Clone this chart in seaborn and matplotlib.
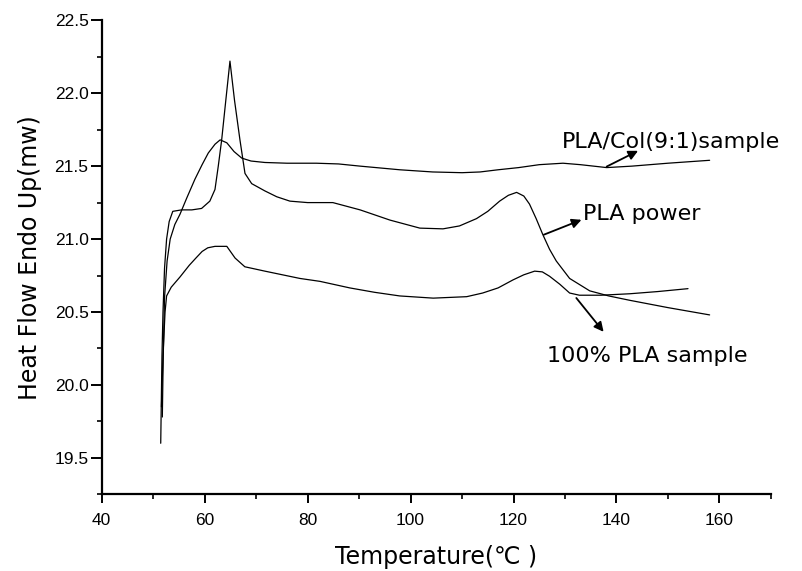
import matplotlib
matplotlib.use("Agg")
import matplotlib.pyplot as plt
from matplotlib.ticker import MultipleLocator
import seaborn as sns

# DSC curves
# PLA power (sharp peak near 65 C)
power_t = [51.46, 51.7, 51.9, 52.2, 52.6, 53.1, 53.8, 55.5, 57.5, 59.4, 61.0, 62.0,
           62.64, 63.3, 64.1, 64.91, 65.8, 66.85, 67.83, 69.13, 71.7, 74.0, 76.56,
           80.0, 84.9, 90.2, 96.0, 101.8, 106.3, 109.5, 112.8, 115.0, 117.3, 119.0,
           120.6, 122.0, 123.1, 124.4, 125.7, 127.0, 128.3, 130.9, 134.8, 138.5, 142.6,
           150.0, 158.1]
power_y = [19.60, 20.20, 20.50, 20.80, 21.00, 21.12, 21.19, 21.20, 21.20, 21.21, 21.26, 21.34,
           21.50, 21.68, 21.95, 22.22, 21.95, 21.68, 21.45, 21.38, 21.33, 21.29, 21.26,
           21.25, 21.25, 21.20, 21.13, 21.075, 21.07, 21.09, 21.14, 21.19, 21.26, 21.30,
           21.32, 21.295, 21.24, 21.14, 21.03, 20.93, 20.85, 20.73, 20.645, 20.61, 20.58,
           20.53, 20.48]

# PLA/Col(9:1) sample (broad peak near 63 C)
col_t = [51.77, 51.95, 52.2, 52.7, 53.3, 54.2, 55.2, 56.5, 58.1, 59.5, 60.7, 62.0,
         63.0, 64.3, 65.7, 67.2, 69.0, 71.7, 76.0, 81.7, 86.0, 90.2, 97.9, 104.3,
         110.0, 113.5, 117.0, 121.0, 125.0, 129.6, 133.0, 138.1, 143.0, 150.0, 158.1]
col_y = [19.78, 20.20, 20.60, 20.85, 21.00, 21.10, 21.17, 21.28, 21.41, 21.51, 21.59, 21.65,
         21.68, 21.66, 21.60, 21.555, 21.535, 21.525, 21.52, 21.52, 21.515, 21.50, 21.475,
         21.46, 21.455, 21.46, 21.475, 21.49, 21.51, 21.52, 21.51, 21.49, 21.50, 21.52, 21.54]

# 100% PLA sample (lowest curve)
pla_t = [51.6, 51.9, 52.3, 52.6, 53.5, 55.2, 57.0, 58.3, 59.5, 60.6, 62.0, 64.3, 65.9,
         67.8, 71.7, 78.5, 82.4, 88.2, 93.0, 97.9, 104.4, 110.9, 114.0, 117.0, 119.9,
         122.0, 124.1, 125.6, 127.0, 129.0, 130.9, 132.8, 137.0, 142.6, 148.0, 153.9]
pla_y = [19.85, 20.20, 20.50, 20.61, 20.67, 20.74, 20.82, 20.87, 20.915, 20.94, 20.95, 20.95, 20.87,
         20.81, 20.78, 20.73, 20.71, 20.665, 20.635, 20.61, 20.595, 20.605, 20.63, 20.665, 20.72,
         20.755, 20.78, 20.775, 20.745, 20.69, 20.63, 20.615, 20.615, 20.625, 20.64, 20.66]

labels = ["PLA/Col(9:1)sample", "PLA power", "100% PLA sample"]
label_pos = [(129.3, 21.625), (133.5, 21.132), (126.6, 20.155)]
arrow_from = [(138.1, 21.497), (125.9, 21.03), (132.2, 20.596)]
arrow_to = [(144.2, 21.605), (133.2, 21.132), (137.5, 20.364)]

sns.set_style("ticks")
plt.rcParams['font.family'] = ['DejaVu Sans', 'Noto Sans CJK SC']
plt.rcParams['text.color'] = 'black'
plt.rcParams['axes.labelcolor'] = 'black'

fig = plt.figure(figsize=(8.03, 5.71), dpi=100)
ax = fig.add_axes([0.1267, 0.1343, 0.8333, 0.8302])

for t, y in [(power_t, power_y), (col_t, col_y), (pla_t, pla_y)]:
    sns.lineplot(x=t, y=y, ax=ax, color='black', linewidth=0.9, sort=False, estimator=None)

for text, (tx, ty) in zip(labels, label_pos):
    ax.text(tx, ty, text, fontsize=16, ha='left', va='baseline', color='black')

for (x0, y0), (x1, y1) in zip(arrow_from, arrow_to):
    ax.annotate("", xy=(x1, y1), xytext=(x0, y0),
                arrowprops=dict(arrowstyle='-|>', color='black', lw=1.3,
                                mutation_scale=14, shrinkA=0, shrinkB=0))

ax.set_xlim(40, 170)
ax.set_ylim(19.25, 22.5)
ax.xaxis.set_major_locator(MultipleLocator(20))
ax.xaxis.set_minor_locator(MultipleLocator(10))
ax.yaxis.set_major_locator(MultipleLocator(0.5))
ax.yaxis.set_minor_locator(MultipleLocator(0.25))
ax.set_yticks([19.5, 20.0, 20.5, 21.0, 21.5, 22.0, 22.5])
ax.set_yticklabels(["19.5", "20.0", "20.5", "21.0", "21.5", "22.0", "22.5"])

sns.despine(ax=ax)
for s in ['left', 'bottom']:
    ax.spines[s].set_linewidth(1.6)
    ax.spines[s].set_color('black')

ax.tick_params(axis='both', which='both', direction='out', colors='black')
ax.tick_params(axis='both', which='major', width=1.4)
ax.tick_params(axis='y', which='major', length=8, pad=1.5)
ax.tick_params(axis='x', which='major', length=6.5, pad=7)
ax.tick_params(axis='both', which='minor', length=3.5, width=1.2)
for lab in ax.get_xticklabels() + ax.get_yticklabels():
    lab.set_fontfamily('Liberation Sans')
    lab.set_fontsize(12.5)
    lab.set_color('black')

ax.set_xlabel("Temperature(\u2103 )", fontsize=17, labelpad=12)
ax.set_ylabel("Heat Flow Endo Up(mw)", fontsize=17, labelpad=9)

fig.savefig("out.png", dpi=100)
